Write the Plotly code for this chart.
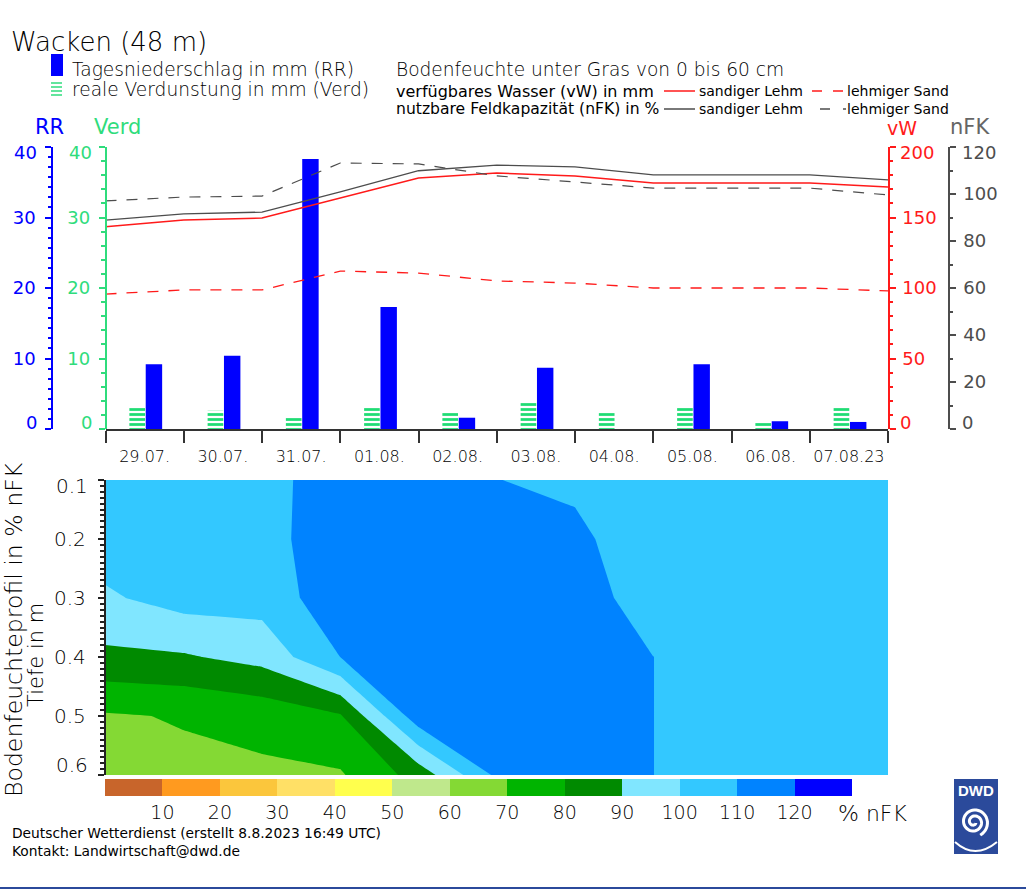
import numpy as np
import plotly.graph_objects as go

W, H = 1026, 889
THIN = "DejaVu Sans Light, DejaVu Sans"
REG = "DejaVu Sans"
BLUE = "#0000ff"
GREEN = "#2fdc7c"
RED = "#ff1a1a"
GREY = "#4d4d4d"


def px(x):
    return x / W


def py(y):
    return 1 - y / H


days = ["2023-07-29", "2023-07-30", "2023-07-31", "2023-08-01", "2023-08-02", "2023-08-03",
        "2023-08-04", "2023-08-05", "2023-08-06", "2023-08-07", "2023-08-08"]
noon = [d + " 12:00" for d in days[:-1]]
labels = ["29.07.", "30.07.", "31.07.", "01.08.", "02.08.", "03.08.", "04.08.", "05.08.", "06.08.", "07.08.23"]

# daily values
rr = [9.2, 10.4, 38.3, 17.3, 1.6, 8.7, 0, 9.2, 1.1, 1.0]
verd = [3.1, 2.6, 1.8, 3.1, 2.4, 3.7, 2.4, 3.1, 1.1, 3.1]
vw_loam = [143.5, 148.2, 149.6, 163.8, 178, 181.6, 179.4, 174.5, 174.5, 174.5, 171.6]
vw_sand = [95.7, 98.6, 98.6, 112, 110.6, 105, 103.5, 100, 100, 100, 97.9]
nfk_loam = [88.9, 91.5, 92.3, 100.9, 109.9, 112.3, 111.5, 108.1, 108.1, 108.1, 106]
nfk_sand = [97.1, 98.7, 99.1, 113.2, 112.8, 107.7, 105.1, 102.5, 102.5, 102.5, 99.6]

# soil moisture profile, one column per day boundary, % nFK
depth = [0.1, 0.2, 0.3, 0.4, 0.5, 0.6]
profile = {
    "2023-07-29": [106, 105, 98.6, 87.8, 69, 64],
    "2023-07-30": [106, 107, 104, 89, 70.7, 67.8],
    "2023-07-31": [105.5, 105, 104, 93.3, 73.6, 68],
    "2023-08-01": [116.8, 118.4, 116.3, 110, 79, 69],
    "2023-08-02": [118, 118, 118, 117, 116, 83.9],
    "2023-08-03": [110.2, 116, 117, 117, 116, 112],
    "2023-08-04": [107.6, 112.8, 114, 114, 114, 114],
    "2023-08-05": [103, 102, 106, 110.05, 110.05, 110.05],
    "2023-08-06": [105, 105, 105, 105, 105, 105],
    "2023-08-07": [105, 105, 105, 105, 105, 105],
    "2023-08-08": [105, 105, 105, 105, 105, 105],
}
z = np.array([profile[d] for d in days]).T

band_colors = ["#c8652b", "#ff9a1f", "#fbc63c", "#ffe066", "#ffff4d", "#bfe88c", "#84d934",
               "#00b400", "#008a00", "#80e6ff", "#33c8ff", "#0083ff", "#0000ff"]
scale = []
for i, c in enumerate(band_colors):
    scale.append([i / 13, c])
    scale.append([(i + 1) / 13, c])

DAY = 86400000
fig = go.Figure()

fig.add_trace(go.Bar(x=noon, y=rr, xaxis="x", yaxis="y", marker=dict(color=BLUE, line=dict(width=0)),
                     width=0.21 * DAY, offset=0.014 * DAY))
fig.add_trace(go.Bar(x=noon, y=verd, xaxis="x", yaxis="y2",
                     marker=dict(color="white", line=dict(width=0),
                                 pattern=dict(shape="-", fgcolor="#1fdc74", fgopacity=1, bgcolor="white",
                                              size=5, solidity=0.55)),
                     width=0.2 * DAY, offset=-0.195 * DAY))
fig.add_trace(go.Scatter(x=days, y=vw_loam, xaxis="x", yaxis="y3", mode="lines", line=dict(color=RED, width=1.5)))
fig.add_trace(go.Scatter(x=days, y=vw_sand, xaxis="x", yaxis="y3", mode="lines",
                         line=dict(color=RED, width=1.3, dash="11px,10px")))
fig.add_trace(go.Scatter(x=days, y=nfk_loam, xaxis="x", yaxis="y4", mode="lines", line=dict(color=GREY, width=1.3)))
fig.add_trace(go.Scatter(x=days, y=nfk_sand, xaxis="x", yaxis="y4", mode="lines",
                         line=dict(color=GREY, width=1.2, dash="11px,10px")))

fig.add_trace(go.Contour(x=days, y=depth, z=z, xaxis="x2", yaxis="y5", zmin=0, zmax=130, autocontour=False,
                         contours=dict(start=0, end=130, size=10, coloring="fill"),
                         line=dict(width=0, smoothing=0), colorscale=scale, showscale=False))

steps = list(range(5, 130, 10))
fig.add_trace(go.Heatmap(x=steps, y=[0], z=[steps], xaxis="x3", yaxis="y6", zmin=0, zmax=130,
                         colorscale=scale, showscale=False))


def val_axis(pos, vals, inner, color, minor_step, side="left", overlay=True, standoff=6):
    ax = dict(domain=[py(429), py(147)], anchor="free", position=pos, side=side, showgrid=False, zeroline=False,
              showline=True, linecolor=color, linewidth=1.5, ticks="outside", ticklen=6, tickwidth=1.5, tickcolor=color,
              tickvals=vals, ticktext=[str(v) if v in inner else "" for v in vals],
              ticklabelstandoff=standoff, tickfont=dict(family=REG, size=18, color=color),
              minor=dict(ticks="outside", dtick=minor_step, tick0=0, ticklen=3.5, tickwidth=1.5, tickcolor=color),
              range=[vals[0], vals[-1]])
    if overlay:
        ax["overlaying"] = "y"
    return ax


fig.update_layout(
    width=W, height=H, margin=dict(l=0, r=0, t=0, b=0), showlegend=False, barmode="overlay",
    paper_bgcolor="white", plot_bgcolor="white",
    xaxis=dict(domain=[px(105.5), px(888)], anchor="y", type="date", range=[days[0], days[-1]], showgrid=False,
               showline=True, linecolor="#333333", linewidth=1.5, tickvals=noon, ticktext=labels, ticks="",
               ticklabelstandoff=12, tickfont=dict(family=THIN, size=16, color="#000000"),
               minor=dict(ticks="outside", tickvals=days, ticklen=12, tickwidth=1.5, tickcolor="#333333")),
    yaxis=val_axis(px(52), [0, 10, 20, 30, 40], [10, 20, 30], BLUE, 10 / 7, overlay=False),
    yaxis2=val_axis(px(105.5), [0, 10, 20, 30, 40], [10, 20, 30], GREEN, 2, standoff=5),
    yaxis3=val_axis(px(889), [0, 50, 100, 150, 200], [50, 100, 150], RED, 10, side="right", standoff=3),
    yaxis4=val_axis(px(949), [0, 20, 40, 60, 80, 100, 120], [20, 40, 60, 80, 100], GREY, 10, side="right", standoff=4),
    xaxis2=dict(domain=[px(105.5), px(888)], anchor="y5", type="date", range=[days[0], days[-1]],
                showgrid=False, showticklabels=False, ticks="", zeroline=False),
    yaxis5=dict(domain=[py(775), py(480)], anchor="x2", range=[0.6, 0.1], showgrid=False, zeroline=False,
                showline=True, linecolor="#222222", linewidth=1.5, ticks="outside", ticklen=6, tickcolor="#222222",
                tickwidth=1.5, tickvals=depth, ticktext=["", "0.2", "0.3", "0.4", "0.5", ""], ticklabelstandoff=8,
                tickfont=dict(family=THIN, size=20, color="#000000"),
                minor=dict(ticks="outside", dtick=0.01, tick0=0.1, ticklen=4, tickwidth=1.5, tickcolor="#222222")),
    xaxis3=dict(domain=[px(105), px(852)], anchor="y6", range=[0, 130], showgrid=False, zeroline=False, ticks="",
                tickvals=list(range(10, 130, 10)), ticklabelstandoff=3,
                tickfont=dict(family=THIN, size=19, color="#000000")),
    yaxis6=dict(domain=[py(796), py(779)], anchor="x3", visible=False, range=[-0.5, 0.5]),
)


def txt(x, y, text, size, color="#000000", anchor="left", family=THIN, angle=0):
    fig.add_annotation(x=px(x), y=py(y), xref="paper", yref="paper", text=text, showarrow=False, xanchor=anchor,
                       yanchor="middle", textangle=angle, font=dict(family=family, size=size, color=color),
                       borderpad=0, align="left")


def line(x0, x1, y, color, width=1.5):
    fig.add_shape(type="line", xref="paper", yref="paper", x0=px(x0), x1=px(x1), y0=py(y), y1=py(y),
                  line=dict(color=color, width=width))


# end labels sit inside the axis ends on the original
def end_label(x, axis, val, shift, text, color, anchor, family=REG, size=18):
    fig.add_annotation(x=px(x), y=val, xref="paper", yref=axis, yshift=shift, text=text, showarrow=False,
                       xanchor=anchor, yanchor="middle", font=dict(family=family, size=size, color=color))


for x, axis, top, color, anchor in [(39, "y", 40, BLUE, "right"), (94, "y2", 40, GREEN, "right"),
                                    (898, "y3", 200, RED, "left"), (960, "y4", 120, GREY, "left")]:
    end_label(x, axis, top, -5, str(top), color, anchor)
    end_label(x, axis, 0, 7, "0", color, anchor)
end_label(90, "y5", 0.1, -6, "0.1", "#000000", "right", THIN, 20)
end_label(90, "y5", 0.6, 10, "0.6", "#000000", "right", THIN, 20)

txt(10, 42, "Wacken (48 m)", 26)
txt(71, 69, "Tagesniederschlag in mm (RR)", 18.6)
txt(71, 90, "reale Verdunstung in mm (Verd)", 18.6)
txt(395, 69, "Bodenfeuchte unter Gras von 0 bis 60 cm", 18.6)
txt(395, 91, "verfügbares Wasser (vW) in mm", 16, family=REG)
txt(395, 109, "nutzbare Feldkapazität (nFK) in %", 15.6, family=REG)
txt(698, 91, "sandiger Lehm", 14, family=REG)
txt(698, 109, "sandiger Lehm", 14, family=REG)
txt(846, 91, "lehmiger Sand", 14, family=REG)
txt(846, 109, "lehmiger Sand", 14, family=REG)
txt(34, 127, "RR", 21, BLUE, family=REG)
txt(93, 127, "Verd", 21, GREEN, family=REG)
txt(886, 128, "vW", 19, RED, family=REG)
txt(949, 127, "nFK", 21, "#666666", family=REG)
txt(14, 630, "Bodenfeuchteprofil in % nFK", 23.6, anchor="center", angle=-90)
txt(36, 655, "Tiefe in m", 21, anchor="center", angle=-90)
txt(837, 813, "% nFK", 22)
txt(11, 833, "Deutscher Wetterdienst (erstellt 8.8.2023 16:49 UTC)", 13.8, family=REG)
txt(11, 851, "Kontakt: Landwirtschaft@dwd.de", 13.8, family=REG)

# hand drawn legend keys
fig.add_shape(type="rect", xref="paper", yref="paper", x0=px(51), x1=px(63), y0=py(76), y1=py(54),
              fillcolor=BLUE, line=dict(width=0))
for y in [83, 87, 91, 95]:
    line(51, 62, y, GREEN)
line(664, 695, 91, RED)
line(812, 822, 91, RED)
line(833, 843, 91, RED)
line(664, 695, 109, GREY)
line(820, 830, 109, GREY)
line(843, 846, 109, GREY)

# bottom rule and DWD logo
line(0, W, 888, "#2b4a9b", 2)
fig.add_shape(type="rect", xref="paper", yref="paper", x0=px(954), x1=px(998), y0=py(854), y1=py(779),
              fillcolor="#2b4a9b", line=dict(width=0))
txt(976, 790, "<b>DWD</b>", 15, "white", anchor="center", family="Liberation Sans")
theta = np.linspace(0, 4.2 * np.pi, 80)
radius = 2 + 12.5 * theta / theta[-1]
sx = 974 + radius * np.cos(theta + 0.5)
sy = 822 + radius * np.sin(theta + 0.5)
path = "M " + " L ".join(f"{px(a):.4f},{py(b):.4f}" for a, b in zip(sx, sy))
fig.add_shape(type="path", xref="paper", yref="paper", path=path, line=dict(color="white", width=3))
fig.add_shape(type="path", xref="paper", yref="paper",
              path=f"M {px(955):.4f},{py(842):.4f} Q {px(975):.4f},{py(860):.4f} {px(997):.4f},{py(842):.4f}",
              line=dict(color="white", width=2))

fig.write_html("out.html", config={"displayModeBar": False}, post_script="document.body.style.margin='0';")
